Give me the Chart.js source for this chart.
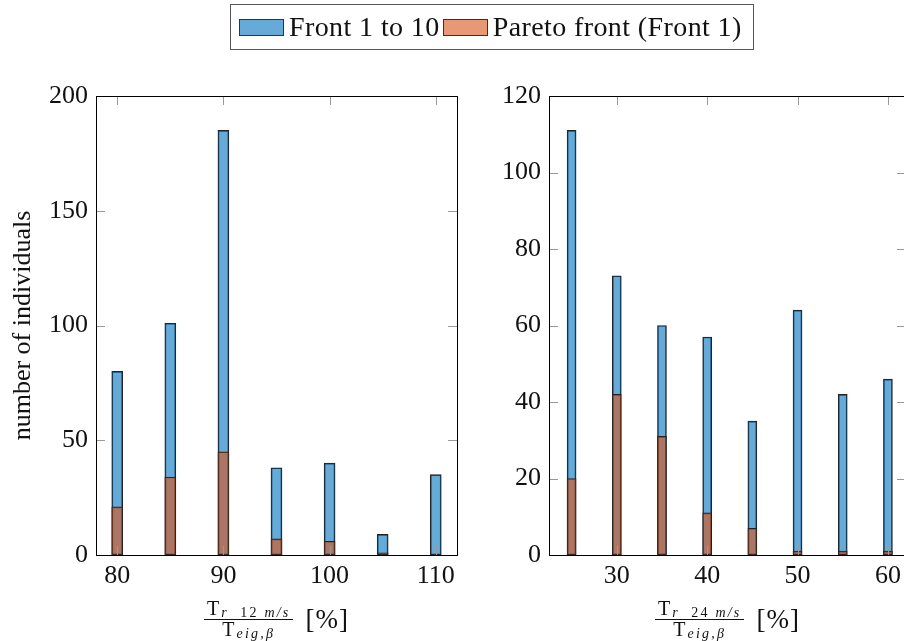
<!DOCTYPE html>
<html>
<head>
<meta charset="utf-8">
<script src="https://cdn.jsdelivr.net/npm/chart.js@4.4.0/dist/chart.umd.min.js"></script>
<style>
body { margin:0; width:904px; height:641px; overflow:hidden; background:#fff; position:relative; font-family:"Liberation Serif", serif; color:#111; }
canvas { position:absolute; top:0; }
#c1 { left:0; }
#c2 { left:470px; }
.legend { position:absolute; left:230px; top:4px; width:524px; height:46px; border:1px solid #555; box-sizing:border-box; display:flex; align-items:center; padding-left:8px; font-size:28px; letter-spacing:0.4px; white-space:nowrap; }
.legend .patch { display:inline-block; width:43px; height:15px; border:1px solid #333; margin-right:5px; }
.legend .item { display:flex; align-items:center; margin-right:3px; }
.xt { position:absolute; top:599px; display:flex; justify-content:center; align-items:center; font-size:20px; }
.frac { display:inline-flex; flex-direction:column; align-items:center; }
.frac .num { padding:0 3px 1px; border-bottom:1px solid #111; line-height:19px; height:19px; }
.frac .den { line-height:19px; height:19px; }
.frac sub { font-size:14px; position:relative; top:2px; vertical-align:baseline; letter-spacing:2.2px; margin-left:2px; }
.pct { font-size:27px; margin-left:12px; letter-spacing:1px; }
</style>
</head>
<body>
<canvas id="c1" width="470" height="641"></canvas>
<canvas id="c2" width="440" height="641"></canvas>
<div class="legend">
  <span class="item"><span class="patch" style="background:rgba(0,114,189,0.6)"></span>Front 1 to 10</span>
  <span class="item"><span class="patch" style="background:rgba(217,83,25,0.6)"></span>Pareto front (Front 1)</span>
</div>
<div class="xt" style="left:96px;width:361px">
  <span class="frac"><span class="num">T<sub><i>r</i>&nbsp;&nbsp;12&nbsp;<i>m/s</i></sub></span><span class="den">T<sub><i>eig,β</i></sub></span></span>
  <span class="pct">[%]</span>
</div>
<div class="xt" style="left:549px;width:357px">
  <span class="frac"><span class="num">T<sub><i>r</i>&nbsp;&nbsp;24&nbsp;<i>m/s</i></sub></span><span class="den">T<sub><i>eig,β</i></sub></span></span>
  <span class="pct">[%]</span>
</div>
<script>
// histogram bins and counts
const binsLeft = [80, 85, 90, 95, 100, 105, 110];
const allLeft = [80, 101, 185, 38, 40, 9, 35];
const paretoLeft = [21, 34, 45, 7, 6, 1, 0];

const binsRight = [25, 30, 35, 40, 45, 50, 55, 60];
const allRight = [111, 73, 60, 57, 35, 64, 42, 46];
const paretoRight = [20, 42, 31, 11, 7, 1, 1, 1];

const xTicksLeft = [80, 90, 100, 110];
const yTicksLeft = [0, 50, 100, 150, 200];
const xTicksRight = [30, 40, 50, 60];
const yTicksRight = [0, 20, 40, 60, 80, 100, 120];

const blue = 'rgba(0,114,189,0.6)';
const orange = 'rgba(217,83,25,0.6)';
const font = { family: 'Liberation Serif', size: 26 };

function pts(xs, ys) {
    return xs.map(function(x, i){ return { x: x, y: ys[i] }; });
}

// box around the plot and little ticks pointing inwards on all sides
const frame = {
    id: 'frame',
    afterDatasetsDraw: function(chart) {
        var ctx = chart.ctx, a = chart.chartArea, sx = chart.scales.x, sy = chart.scales.y;
        ctx.save();
        ctx.strokeStyle = '#999';
        ctx.lineWidth = 1;
        ctx.beginPath();
        sx.ticks.forEach(function(t){
            var p = Math.round(sx.getPixelForValue(t.value)) + 0.5;
            ctx.moveTo(p, a.top); ctx.lineTo(p, a.top + 9);
            ctx.moveTo(p, a.bottom); ctx.lineTo(p, a.bottom - 9);
        });
        sy.ticks.forEach(function(t){
            var p = Math.round(sy.getPixelForValue(t.value)) + 0.5;
            ctx.moveTo(a.left, p); ctx.lineTo(a.left + 9, p);
            ctx.moveTo(a.right, p); ctx.lineTo(a.right - 9, p);
        });
        ctx.stroke();
        ctx.strokeStyle = '#000';
        ctx.strokeRect(Math.round(a.left) + 0.5, Math.round(a.top) + 0.5, Math.round(a.right - a.left), Math.round(a.bottom - a.top));
        ctx.restore();
    }
};

function makeChart(id, bins, all, pareto, xr, xt, yMax, yt, thick, yw, padRight, yTitle) {
    return new Chart(document.getElementById(id), {
        type: 'bar',
        data: {
            datasets: [{
                label: 'Pareto front (Front 1)',
                data: pts(bins, pareto),
                backgroundColor: orange,
                borderColor: '#222',
                borderWidth: 1,
                borderSkipped: false,
                barThickness: thick,
                grouped: false
            }, {
                label: 'Front 1 to 10',
                data: pts(bins, all),
                backgroundColor: blue,
                borderColor: '#222',
                borderWidth: 1,
                borderSkipped: false,
                barThickness: thick,
                grouped: false
            }]
        },
        options: {
            responsive: false,
            animation: false,
            devicePixelRatio: 1,
            layout: { padding: { top: 96, right: padRight, left: 0, bottom: 0 } },
            plugins: { legend: { display: false }, tooltip: { enabled: false } },
            scales: {
                x: {
                    type: 'linear',
                    offset: false,
                    min: xr[0], max: xr[1],
                    grid: { display: false, drawTicks: false },
                    border: { display: false },
                    ticks: { font: font, color: '#111', padding: 6 },
                    afterBuildTicks: function(s){ s.ticks = xt.map(function(v){ return { value: v }; }); },
                    afterFit: function(s){ s.height = 86; }
                },
                y: {
                    min: 0, max: yMax,
                    grid: { display: false, drawTicks: false },
                    border: { display: false },
                    ticks: { font: font, color: '#111', padding: 8 },
                    afterBuildTicks: function(s){ s.ticks = yt.map(function(v){ return { value: v }; }); },
                    title: { display: !!yTitle, text: yTitle, font: { family: 'Liberation Serif', size: 26 }, color: '#111', padding: { top: 8, bottom: 0 } },
                    afterFit: function(s){ s.width = yw; }
                }
            }
        },
        plugins: [frame]
    });
}

makeChart('c1', binsLeft, allLeft, paretoLeft, [78, 112], xTicksLeft, 200, yTicksLeft, 11, 96, 13, 'number of individuals');
makeChart('c2', binsRight, allRight, paretoRight, [22.5, 62], xTicksRight, 120, yTicksRight, 9, 79, 4, '');
</script>
</body>
</html>
